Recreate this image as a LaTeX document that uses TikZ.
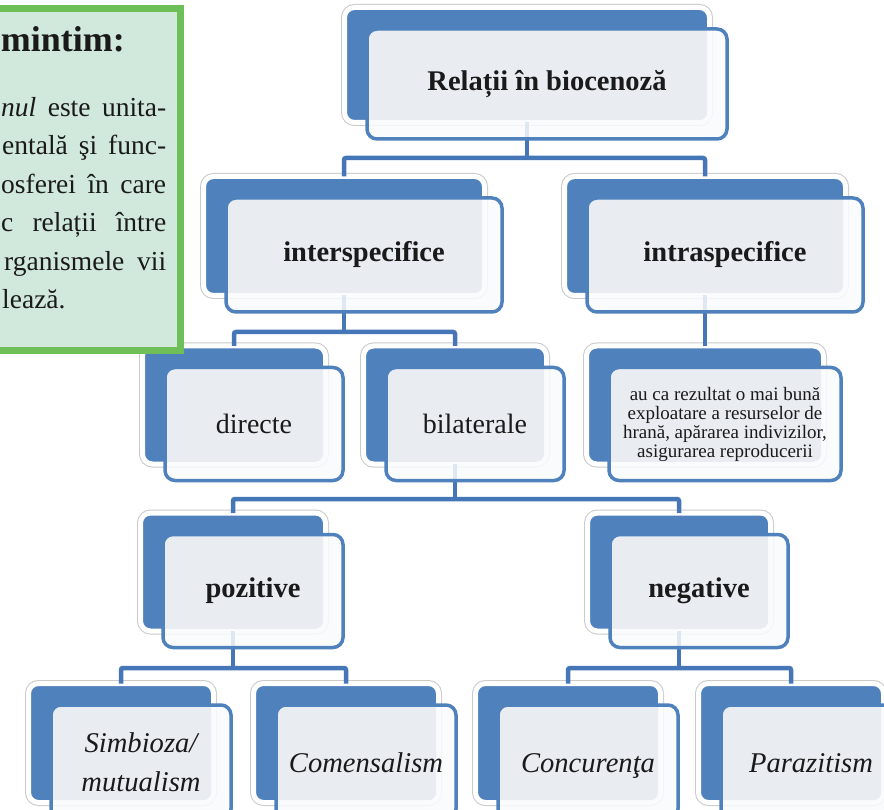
\documentclass[tikz,border=0pt]{standalone}
\usepackage{fontspec}
\setmainfont{Liberation Serif}
\usetikzlibrary{calc}
\definecolor{bblue}{HTML}{4F81BD}
\definecolor{cblue}{HTML}{4577B8}
\definecolor{ovl}{HTML}{E9EDF2}
\definecolor{ffill}{HTML}{FAFBFD}
\definecolor{ringc}{HTML}{CACACA}
\definecolor{gborder}{HTML}{6FBF58}
\definecolor{gfill}{HTML}{D1E8DC}
\definecolor{txt}{HTML}{1A1A1A}
\tikzset{
 backbox/.style={rectangle, rounded corners=10pt, fill=bblue, draw=white, line width=5pt,
   preaction={draw=ringc, line width=7pt}, inner sep=0pt, outer sep=0pt},
 frontbox/.style={rectangle, rounded corners=10pt, draw=bblue, line width=3.5pt,
   inner sep=0pt, outer sep=0pt, align=center, text=txt},
 conn/.style={draw=cblue, line width=4.5pt, rounded corners=2pt},
 boldlbl/.style={font=\fontsize{28.5}{33}\selectfont\bfseries},
 reglbl/.style={font=\fontsize{28}{33}\selectfont},
 itlbl/.style={font=\fontsize{28.6}{39}\selectfont\itshape},
 smalllbl/.style={font=\fontsize{19}{19}\selectfont},
 gline/.style={anchor=base west, inner sep=0pt, text=txt, font=\fontsize{27.5}{38}\selectfont},
}
\newcommand\backpanel[5]{\node[backbox, minimum width=#4pt+5pt, minimum height=#5pt+5pt] (b#1) at (#2,#3) {};}
\newcommand\frontpanel[6]{%
 \fill[ffill, fill opacity=0.85, rounded corners=10pt] ($(b#1.south west)+(22.5,16.5)$) rectangle ($(b#1.north east)+(17.5,21.5)$);
 \begin{scope}
  \clip[rounded corners=7.5pt] ($(b#1.south west)+(2.5,-2.5)$) rectangle ($(b#1.north east)+(-2.5,2.5)$);
  \fill[ovl, rounded corners=8pt] ($(b#1.south west)+(24.25,14.75)$) rectangle ($(b#1.north east)+(15.75,23.25)$);
 \end{scope}
 \draw[frontbox] ($(b#1.south west)+(22.5,16.5)$) rectangle ($(b#1.north east)+(17.5,21.5)$);
 \node[inner sep=0pt, align=center, text=txt, #4] (f#1) at ($(b#1.center)+(20,19)+(0,#6)$) {#5};
}
\begin{document}
\begin{tikzpicture}[x=1pt, y=-1pt]
\useasboundingbox (0,0) rectangle (884,810);
\fill[white] (0,0) rectangle (884,810);
% back panels
\backpanel{top}{527}{65}{360}{110}
\backpanel{inter}{344}{236}{276}{114}
\backpanel{intra}{705}{236}{276}{114}
\backpanel{dir}{234}{405}{178}{113}
\backpanel{bil}{455}{405}{178}{113}
\backpanel{txt}{705}{405}{232}{113}
\backpanel{poz}{233}{572}{180}{113}
\backpanel{neg}{679}{572}{178}{113}
\backpanel{sim}{121}{743}{180}{114}
\backpanel{com}{346}{743}{180}{114}
\backpanel{con}{568}{743}{180}{114}
\backpanel{par}{791}{743}{180}{114}
% connectors
\coordinate (j1) at (527,158);
\coordinate (j2) at (344,332);
\coordinate (j3) at (455,499);
\coordinate (j4) at (233,668);
\coordinate (j5) at (679,668);
\draw[conn] (btop.south) -- (j1);
\draw[conn] (binter.north) |- (j1) -| (bintra.north);
\draw[conn] (binter.south) -- (j2);
\draw[conn] (bdir.north) |- (j2) -| (bbil.north);
\draw[conn] (bintra.south) -- (btxt.north);
\draw[conn] (bbil.south) -- (j3);
\draw[conn] (bpoz.north) |- (j3) -| (bneg.north);
\draw[conn] (bpoz.south) -- (j4);
\draw[conn] (bsim.north) |- (j4) -| (bcom.north);
\draw[conn] (bneg.south) -- (j5);
\draw[conn] (bcon.north) |- (j5) -| (bpar.north);
% front panels
\frontpanel{top}{360}{110}{boldlbl}{Relații în biocenoză}{0}
\frontpanel{inter}{276}{114}{boldlbl}{interspecifice}{0}
\frontpanel{intra}{276}{114}{boldlbl}{intraspecifice}{0}
\frontpanel{dir}{178}{113}{reglbl}{directe}{0}
\frontpanel{bil}{178}{113}{reglbl}{bilaterale}{0}
\frontpanel{txt}{232}{113}{smalllbl}{au ca rezultat o mai bună\\exploatare a resurselor de\\hrană, apărarea indivizilor,\\asigurarea reproducerii}{0}
\frontpanel{poz}{180}{113}{boldlbl}{pozitive}{0}
\frontpanel{neg}{178}{113}{boldlbl}{negative}{0}
\frontpanel{sim}{180}{114}{itlbl}{Simbioza/\\mutualism}{0}
\frontpanel{com}{180}{114}{itlbl}{\strut Comensalism}{3}
\frontpanel{con}{180}{114}{itlbl}{\strut Concurenţa}{3}
\frontpanel{par}{180}{114}{itlbl}{\strut Parazitism}{3}
% green reminder box
\draw[gborder, line width=7pt, fill=gfill] (-20,8.5) rectangle (180.5,350.5);
\node[anchor=base east, inner sep=0pt, text=txt, font=\fontsize{36}{40}\selectfont\bfseries] (gtitle) at (125,52) {mintim:};
\node[gline] (g1) at (1,117) {\makebox[165pt][s]{\textit{nul} este unita-}};
\node[gline] (g2) at (2,155) {\makebox[164pt][s]{entală şi func-}};
\node[gline] (g3) at (1,194) {\makebox[165pt][s]{osferei în care}};
\node[gline] (g4) at (1,232) {\makebox[165pt][s]{c relații între}};
\node[gline] (g5) at (4,271) {\makebox[162pt][s]{rganismele vii}};
\node[gline] (g6) at (2,309) {lează.};
\end{tikzpicture}
\end{document}
